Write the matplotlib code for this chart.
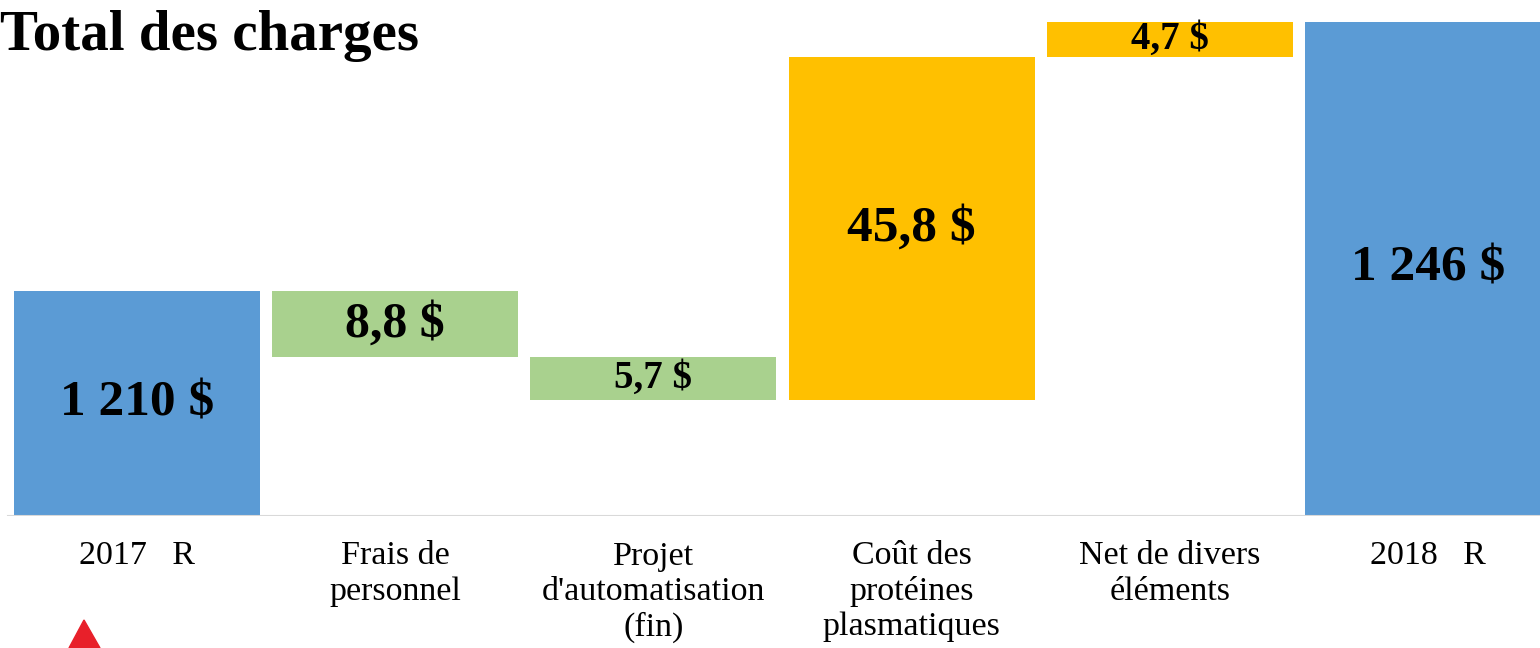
import matplotlib.pyplot as plt
from matplotlib.patches import Polygon

# waterfall of total charges, in millions $
categories = ["2017   R", "Frais de\npersonnel", "Projet\nd'automatisation\n(fin)",
              "Coût des\nprotéines\nplasmatiques", "Net de divers\néléments", "2018   R"]
start_total = 1210
changes = [-8.8, -5.7, 45.8, 4.7]
end_total = 1246
value_labels = ["1 210 $", "8,8 $", "5,7 $", "45,8 $", "4,7 $", "1 246 $"]
label_sizes = [37, 36, 28, 37, 28, 37]

blue = "#5B9BD5"
green = "#A9D18E"
yellow = "#FFC000"
base = 1180  # axis is cut above zero

plt.rcParams['font.family'] = ['Liberation Serif', 'DejaVu Serif']

fig = plt.figure(figsize=(15.4, 6.48), dpi=100)
ax = fig.add_axes([0, 132 / 648, 1, 509 / 648])

bottoms, heights, colors = [], [], []
bottoms.append(base)
heights.append(start_total - base)
colors.append(blue)
level = start_total
for c in changes:
    lo = min(level, level + c)
    bottoms.append(lo)
    heights.append(abs(c))
    colors.append(green if c < 0 else yellow)
    level += c
bottoms.append(base)
heights.append(end_total - base)
colors.append(blue)

x = list(range(len(categories)))
ax.bar(x, heights, bottom=bottoms, width=0.953, color=colors, linewidth=0)

for i in x:
    ax.text(i, bottoms[i] + heights[i] / 2, value_labels[i], ha="center", va="center",
            fontsize=label_sizes[i], fontweight="bold", color="black")

ax.set_xlim(-0.5306, 5.434)
ax.set_ylim(base, 1248)
ax.axhline(base, xmin=8 / 1540, xmax=1, color="#D9D9D9", lw=1.5)
for s in ax.spines.values():
    s.set_visible(False)
ax.set_yticks([])
ax.set_xticks(x)
ax.set_xticklabels(categories, fontsize=24.5, linespacing=1.2, va="top")
ax.tick_params(axis="x", length=0, pad=18)

fig.text(0.0, 1 - 50 / 648, "Total des charges", fontsize=41, fontweight="bold",
         va="baseline", ha="left")

# small red emblem at the lower left
fig.patches.append(Polygon([(84 / 1540, 1 - 620 / 648), (69 / 1540, 0), (100 / 1540, 0)],
                           closed=True, transform=fig.transFigure, color="#E8202A"))

fig.savefig("out.png")
